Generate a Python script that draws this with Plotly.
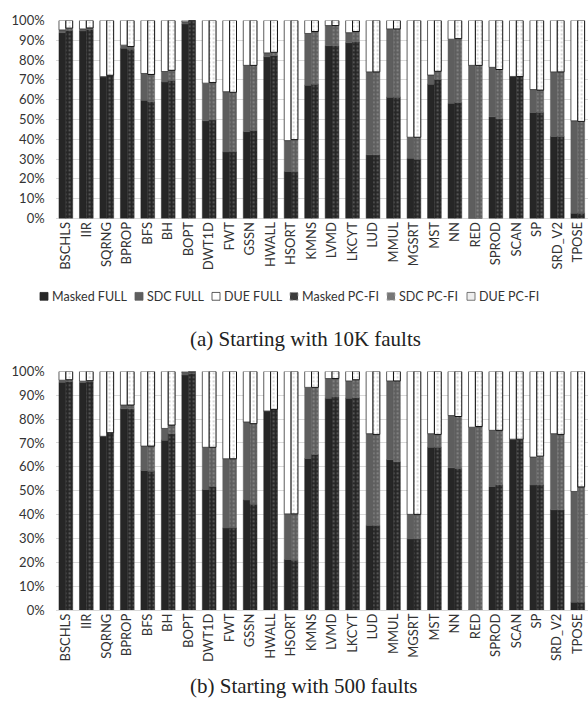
import plotly.graph_objects as go

categories = ["BSCHLS", "IIR", "SQRNG", "BPROP", "BFS", "BH", "BOPT", "DWT1D", "FWT", "GSSN",
              "HWALL", "HSORT", "KMNS", "LVMD", "LKCYT", "LUD", "MMUL", "MGSRT", "MST", "NN",
              "RED", "SPROD", "SCAN", "SP", "SRD_V2", "TPOSE"]

# (a) Starting with 10K faults
a_masked_full = [93.8, 94.7, 71.5, 85.9, 59.7, 68.9, 98.2, 49.3, 33.6, 43.8, 81.6, 23.7, 67.3, 87.2, 88.7, 32.1, 61.2, 30.4, 67.8, 58.2, 0.0, 51.3, 71.7, 53.5, 41.4, 2.6]
a_sdc_full = [1.4, 1.0, 0.1, 1.6, 13.5, 5.3, 1.1, 19.0, 30.4, 33.5, 2.0, 15.6, 26.1, 10.2, 5.1, 41.9, 34.5, 10.6, 4.6, 32.3, 77.3, 25.0, 0.0, 11.6, 32.6, 46.7]
a_due_full = [4.8, 4.3, 28.4, 12.5, 26.8, 25.8, 0.7, 31.7, 36.0, 22.7, 16.4, 60.7, 6.6, 2.6, 6.2, 26.0, 4.3, 59.0, 27.6, 9.5, 22.7, 23.7, 28.3, 34.9, 26.0, 50.7]
a_masked_pcfi = [94.9, 95.4, 72.2, 85.4, 58.9, 69.7, 99.8, 49.7, 33.6, 44.4, 82.2, 23.4, 67.8, 87.2, 89.1, 32.1, 61.2, 29.9, 70.1, 58.6, 0.0, 50.3, 71.7, 53.5, 41.4, 2.6]
a_sdc_pcfi = [1.2, 0.8, 0.1, 1.4, 13.8, 5.1, 0.2, 18.9, 30.1, 32.9, 1.7, 16.4, 26.6, 10.2, 5.3, 41.9, 34.5, 11.1, 4.2, 32.2, 77.3, 24.9, 0.0, 11.3, 32.6, 46.4]
a_due_pcfi = [3.9, 3.8, 27.7, 13.2, 27.3, 25.2, 0.0, 31.4, 36.3, 22.7, 16.1, 60.2, 5.6, 2.6, 5.6, 26.0, 4.3, 59.0, 25.7, 9.2, 22.7, 24.8, 28.3, 35.2, 26.0, 51.0]

# (b) Starting with 500 faults
b_masked_full = [95.5, 95.3, 72.8, 84.3, 58.5, 71.2, 98.5, 50.5, 34.4, 46.1, 83.4, 21.2, 63.5, 88.8, 88.8, 35.5, 63.0, 29.8, 68.2, 59.6, 0.0, 51.8, 71.6, 52.4, 42.0, 3.3]
b_sdc_full = [0.8, 0.6, 0.0, 1.6, 10.2, 4.9, 1.0, 17.7, 29.0, 32.7, 0.0, 19.1, 29.8, 8.2, 7.2, 38.4, 33.0, 10.3, 5.7, 21.9, 76.6, 23.5, 0.0, 11.7, 31.9, 46.4]
b_due_full = [3.7, 4.1, 27.2, 14.1, 31.3, 23.9, 0.5, 31.8, 36.6, 21.2, 16.6, 59.7, 6.7, 3.0, 4.0, 26.1, 4.0, 59.9, 26.1, 18.5, 23.4, 24.7, 28.4, 35.9, 26.1, 50.3]
b_masked_pcfi = [95.8, 95.6, 74.3, 84.3, 58.2, 73.9, 99.2, 51.8, 34.4, 44.3, 84.1, 20.9, 65.2, 89.3, 89.0, 35.5, 62.1, 29.8, 68.2, 59.3, 0.0, 52.5, 71.6, 52.4, 42.0, 3.3]
b_sdc_pcfi = [0.7, 0.5, 0.0, 1.6, 10.5, 3.6, 0.6, 16.4, 29.0, 33.8, 0.0, 19.4, 28.1, 7.7, 7.5, 38.1, 33.9, 10.3, 5.4, 21.8, 76.9, 22.8, 0.0, 12.1, 31.6, 48.3]
b_due_pcfi = [3.5, 3.9, 25.7, 14.1, 31.3, 22.5, 0.2, 31.8, 36.6, 21.9, 15.9, 59.7, 6.7, 3.0, 3.5, 26.4, 4.0, 59.9, 26.4, 18.9, 23.1, 24.7, 28.4, 35.5, 26.4, 48.4]

y_tickvals = [0, 10, 20, 30, 40, 50, 60, 70, 80, 90, 100]
y_ticktext = ["0%", "10%", "20%", "30%", "40%", "50%", "60%", "70%", "80%", "90%", "100%"]
legend_labels = ["Masked FULL", "SDC FULL", "DUE FULL", "Masked PC-FI", "SDC PC-FI", "DUE PC-FI"]
captions = ["(a) Starting with 10K faults", "(b) Starting with 500 faults"]

W, H = 588, 708
def px(x):
    return x / W
def py(y):
    return 1 - y / H

C_MASK = "#262626"
C_SDC = "#5e5e5e"
C_DUE = "#ffffff"
styles = {
    "Masked FULL": dict(color=C_MASK, line=dict(color="#262626", width=0.5)),
    "SDC FULL": dict(color=C_SDC, line=dict(color="#5e5e5e", width=0.5)),
    "DUE FULL": dict(color=C_DUE, line=dict(color="#333333", width=0.8)),
    "Masked PC-FI": dict(color=C_MASK, line=dict(color="#262626", width=0.5),
                         pattern=dict(shape=".", fgcolor="#8a8a8a", size=4, solidity=0.25)),
    "SDC PC-FI": dict(color=C_SDC, line=dict(color="#5e5e5e", width=0.5),
                      pattern=dict(shape=".", fgcolor="#a8a8a8", size=4, solidity=0.25)),
    "DUE PC-FI": dict(color=C_DUE, line=dict(color="#111111", width=1.0),
                      pattern=dict(shape=".", fgcolor="#9a9a9a", size=4, solidity=0.2)),
}

fig = go.Figure()

panels = [
    ("x", "y", [a_masked_full, a_sdc_full, a_due_full], [a_masked_pcfi, a_sdc_pcfi, a_due_pcfi]),
    ("x2", "y2", [b_masked_full, b_sdc_full, b_due_full], [b_masked_pcfi, b_sdc_pcfi, b_due_pcfi]),
]

for xa, ya, full, pcfi in panels:
    for group, series, names in (("full", full, legend_labels[:3]), ("pcfi", pcfi, legend_labels[3:])):
        base = [0.0] * len(categories)
        for vals, name in zip(series, names):
            fig.add_trace(go.Bar(
                x=categories, y=vals, base=base, name=name, offsetgroup=group,
                marker=styles[name], xaxis=xa, yaxis=ya, showlegend=False,
            ))
            base = [b + v for b, v in zip(base, vals)]

axis_font = dict(family="Lato, Carlito, Calibri, sans-serif", size=13, color="#333333")
xcommon = dict(type="category", range=[-0.5, 25.5], tickangle=-90, tickfont=axis_font,
               showgrid=False, showline=False, zeroline=False, ticks="", fixedrange=True,
               domain=[px(55.6), 1])
ycommon = dict(range=[0, 100], tickmode="array", tickvals=y_tickvals, ticktext=y_ticktext,
               tickfont=axis_font, fixedrange=True,
               showgrid=True, gridcolor="#d9d9d9", gridwidth=1, zeroline=True,
               zerolinecolor="#d9d9d9", zerolinewidth=1, showline=False, ticks="",
               ticklabelstandoff=10)

fig.update_layout(
    width=W, height=H, margin=dict(l=0, r=0, t=0, b=0),
    paper_bgcolor="white", plot_bgcolor="white",
    barmode="group", bargap=0.33, bargroupgap=0,
    showlegend=False,
    xaxis=dict(**xcommon, anchor="y"),
    yaxis=dict(**ycommon, domain=[py(215.3), py(12.7)], anchor="x"),
    xaxis2=dict(**xcommon, anchor="y2"),
    yaxis2=dict(**ycommon, domain=[py(616.0), py(371.8)], anchor="x2"),
)

# Legend (manual, single row)
leg_y = 295
sq_x = [40, 135, 212, 290, 387, 467]
sq_fill = [C_MASK, C_SDC, "#ffffff", "#3c3c3c", "#777777", "#eeeeee"]
sq_line = ["#262626", "#5e5e5e", "#333333", "#9a9a9a", "#aaaaaa", "#555555"]
sq_dash = ["solid", "solid", "solid", "dot", "dot", "solid"]
s = 8
for lab, x0, f, lc, d in zip(legend_labels, sq_x, sq_fill, sq_line, sq_dash):
    fig.add_shape(type="rect", xref="paper", yref="paper",
                  x0=px(x0), x1=px(x0 + s), y0=py(leg_y + s / 2), y1=py(leg_y - s / 2),
                  fillcolor=f, line=dict(color=lc, width=0.8, dash=d))
    fig.add_annotation(text=lab, xref="paper", yref="paper", x=px(x0 + s + 2), y=py(leg_y),
                       xanchor="left", yanchor="middle", showarrow=False,
                       font=dict(family="Lato, Carlito, Calibri, sans-serif", size=12.5, color="#333333"))

cap_font = dict(family="Liberation Serif, Times New Roman, serif", size=21, color="#222222")
fig.add_annotation(text=captions[0], xref="paper", yref="paper", x=px(305), y=py(339),
                   xanchor="center", yanchor="middle", showarrow=False, font=cap_font)
fig.add_annotation(text=captions[1], xref="paper", yref="paper", x=px(303), y=py(694),
                   xanchor="center", yanchor="middle", showarrow=False, font=cap_font)

fig.write_html("out.html", config={"displayModeBar": False},
               post_script="document.body.style.margin='0px';document.body.style.overflow='hidden';")
